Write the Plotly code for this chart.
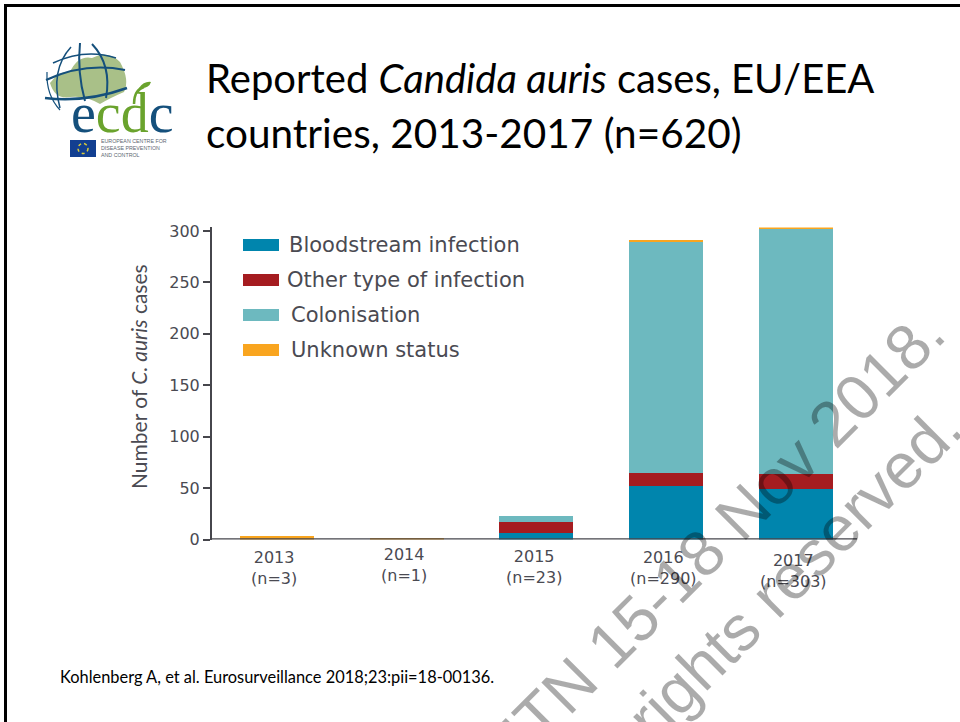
import plotly.graph_objects as go

# Case counts per year and clinical category
years = [2013, 2014, 2015, 2016, 2017]
year_labels = ["2013<br>(n=3)", "2014<br>(n=1)", "2015<br>(n=23)", "2016<br>(n=290)", "2017<br>(n=303)"]
label_tops = [546, 543, 545, 546, 549]
series_names = ["Bloodstream infection", "Other type of infection", "Colonisation", "Unknown status"]
bloodstream = [0, 0, 6, 52, 49]
other_infection = [0, 0, 11, 13, 15]
colonisation = [0, 0, 6, 224, 238]
unknown = [3, 1, 0, 1, 1]
series_values = [bloodstream, other_infection, colonisation, unknown]
series_colors = ["#0085AD", "#A51C20", "#6DB9BF", "#F9A51F"]
y_ticks = [0, 50, 100, 150, 200, 250, 300]

W, H = 960, 722
INK = "#4a4a52"
AXIS = "#46464c"
CHART_FONT = "DejaVu Sans"
TITLE_FONT = "Lato"


def px(x):
    return x / W


def py(y):
    return 1 - y / H


def path(cmds):
    """Build an SVG path in page pixels; tuples are points, strings are commands."""
    out = []
    for c in cmds:
        if isinstance(c, str):
            out.append(c)
        else:
            out.append(f"{px(c[0]):.5f},{py(c[1]):.5f}")
    return " ".join(out)


def rect(x0, y0, x1, y1, color):
    return dict(type="rect", xref="paper", yref="paper", x0=px(x0), x1=px(x1), y0=py(y0), y1=py(y1),
                fillcolor=color, line_width=0, layer="below")


def stroke(cmds, color, width):
    return dict(type="path", xref="paper", yref="paper", path=path(cmds),
                line=dict(color=color, width=width), layer="below")


def fill(cmds, color):
    return dict(type="path", xref="paper", yref="paper", path=path(cmds),
                fillcolor=color, line_width=0, layer="below")


def text(x, y, s, size, color=INK, family=CHART_FONT, xanchor="left", yanchor="middle", angle=0, align="left"):
    return dict(xref="paper", yref="paper", x=px(x), y=py(y), text=s, showarrow=False, xanchor=xanchor,
                yanchor=yanchor, textangle=angle, align=align, borderpad=0,
                font=dict(family=family, size=size, color=color))


fig = go.Figure()
for name, values, color in zip(series_names, series_values, series_colors):
    fig.add_bar(x=years, y=values, name=name, marker=dict(color=color, line_width=0), width=0.57)

shapes = []
annotations = []

# Slide frame
shapes.append(rect(4, 4, 960, 7, "#000000"))
shapes.append(rect(4, 4, 7, 722, "#000000"))

# Organisation mark: globe, wordmark and flag
navy = "#15507c"
land = "#a9c088"
leaf = "#6aa32d"
shapes.append(fill(["M", (50, 83), "Q", (60, 70), (70, 72), "Q", (78, 55), (92, 58), "Q", (108, 50), (120, 62),
                    "Q", (130, 80), (124, 92), "Q", (110, 98), (100, 104), "Q", (85, 95), (70, 97), "Q", (55, 100), (50, 83), "Z"], land))
shapes.append(stroke(["M", (46, 80), "Q", (85, 62), (125, 70)], navy, 2))
shapes.append(stroke(["M", (45, 98), "Q", (85, 103), (127, 88)], navy, 2.5))
shapes.append(stroke(["M", (53, 63), "Q", (85, 48), (116, 58)], navy, 1.5))
shapes.append(stroke(["M", (71, 47), "Q", (50, 70), (60, 108)], navy, 1.5))
shapes.append(stroke(["M", (80, 43), "Q", (77, 72), (85, 101)], navy, 2))
shapes.append(stroke(["M", (92, 44), "Q", (112, 65), (106, 98)], navy, 2))
shapes.append(stroke(["M", (47, 72), "Q", (46, 95), (60, 110)], navy, 1.2))
shapes.append(stroke(["M", (134, 104), "Q", (134, 90), (144, 87)], leaf, 2.5))
shapes.append(fill(["M", (139, 88), "Q", (144, 81), (151, 82), "Q", (149, 89), (139, 88), "Z"], leaf))
shapes.append(rect(70, 140, 96, 157, "#123f91"))
shapes.append(dict(type="circle", xref="paper", yref="paper", x0=px(78), x1=px(88), y0=py(143.5), y1=py(153.5),
                   line=dict(color="#d9cc3a", width=1.5, dash="dot"), layer="below"))
annotations.append(text(100, 148.5, "EUROPEAN CENTRE FOR<br>DISEASE PREVENTION<br>AND CONTROL", 5.3, "#5d6670", "Liberation Sans"))
annotations.append(text(70, 113, f'<span style="color:{navy}">e</span><span style="color:{leaf}">cd</span>'
                                 f'<span style="color:{navy}">c</span>', 56, navy, "Liberation Serif"))

# Slide heading and citation
annotations.append(text(205, 78, "Reported <i>Candida auris</i> cases, EU/EEA", 40, "#000000", TITLE_FONT))
annotations.append(text(205, 132, "countries, 2013-2017 (n=620)", 40.5, "#000000", TITLE_FONT))
annotations.append(text(59, 676, "Kohlenberg A, et al. Eurosurveillance 2018;23:pii=18-00136.", 16.4, "#000000", TITLE_FONT))

# Axis title
annotations.append(text(138, 377, "Number of <i>C. auris</i> cases", 21, INK, "Lato", xanchor="center", angle=-90))

# Key
key_rows = [245, 280, 315, 350]
key_text_x = [288, 286, 290, 290]
for name, color, row, tx in zip(series_names, series_colors, key_rows, key_text_x):
    shapes.append(rect(243, row - 6, 279, row + 6, color))
    annotations.append(text(tx, row, name, 21, INK))

# Category labels sit at slightly different heights
for year, label, top in zip(years, year_labels, label_tops):
    annotations.append(dict(xref="x", yref="paper", x=year - 0.02, y=py(top), text=label, showarrow=False,
                            xanchor="center", yanchor="top", align="center",
                            font=dict(family=CHART_FONT, size=16, color=INK)))

# Baseline drawn over the bars
shapes.append(dict(type="line", xref="x domain", yref="y", x0=0, x1=1, y0=0, y1=0, layer="above",
                   line=dict(color=AXIS, width=2.5)))

# Diagonal notice over the whole slide
notice = "rgba(0,0,0,0.33)"
annotations.append(text(723, 532, "ITN 15-18 Nov 2018.", 64, notice, "Liberation Sans", xanchor="center", angle=-45))
annotations.append(text(794, 573, "rights reserved.", 64, notice, "Liberation Sans", xanchor="center", angle=-45))

fig.update_layout(
    width=W, height=H, margin=dict(l=0, r=0, t=0, b=0, autoexpand=False), barmode="stack", showlegend=False,
    paper_bgcolor="white", plot_bgcolor="white", shapes=shapes, annotations=annotations,
    xaxis=dict(domain=[px(212), px(857)], range=[2012.5, 2017.47], showgrid=False, showticklabels=False,
               ticks="", zeroline=False, showline=False),
    yaxis=dict(domain=[py(539.5), py(227.4)], range=[0, 303.5], tickvals=y_ticks, showgrid=False, zeroline=False,
               showline=True, linecolor=AXIS, linewidth=2, ticks="outside", ticklen=7, tickwidth=1.5,
               tickcolor=AXIS, tickfont=dict(family=CHART_FONT, size=16, color=INK)),
)
fig.write_html("out.html")
